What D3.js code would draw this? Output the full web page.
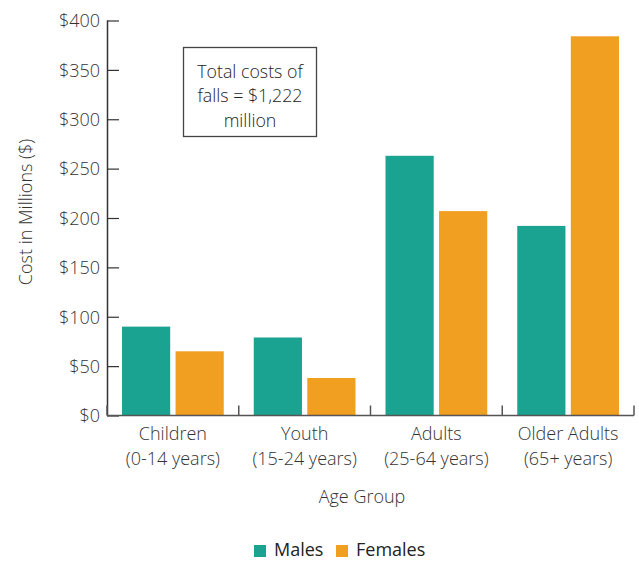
<!DOCTYPE html>
<html><head><meta charset="utf-8">
<script src="https://cdn.jsdelivr.net/npm/d3@7"></script>
<style>
body{margin:0;background:#fff;}
text{font-family:"Open Sans",sans-serif;font-weight:300;}
</style></head>
<body><svg id="c" width="639" height="561"></svg>
<script>
const categories = ["Children|(0-14 years)","Youth|(15-24 years)","Adults|(25-64 years)","Older Adults|(65+ years)"];
const seriesNames = ["Males","Females"];
const males = [90, 79, 263, 192];
const females = [65, 38, 207, 384];
const yTicks = [0,50,100,150,200,250,300,350,400];
const colors = ["#1aa391","#f19f21"];
const annotation = ["Total costs of","falls = $1,222","million"];

const svg = d3.select("#c");
const x0 = d3.scaleBand().domain(categories).range([107,634]).paddingInner(0).paddingOuter(0);
const x1 = d3.scaleBand().domain(seriesNames).range([15, x0.bandwidth()-15]).paddingInner(0.1).paddingOuter(0);
const y = d3.scaleLinear().domain([0,400]).range([415.5,20.5]);
const vals = [males, females];

// bars
categories.forEach((c,i)=>{
  seriesNames.forEach((s,j)=>{
    svg.append("rect").attr("x", x0(c)+x1(s)).attr("width", x1.bandwidth())
      .attr("y", y(vals[j][i])).attr("height", y(0)-y(vals[j][i])).attr("fill", colors[j]);
  });
});

// y axis
const ya = svg.append("g").attr("transform","translate(107,0)")
  .call(d3.axisRight(y).tickValues(yTicks).tickSize(12).tickFormat(d=>"$"+d));
ya.select(".domain").attr("stroke","#333").attr("stroke-width",1.5).attr("d","M0.5,"+y(400)+"V"+y(0));
ya.selectAll(".tick line").attr("stroke","#333").attr("stroke-width",1.2);
ya.selectAll(".tick text").attr("x",-7).attr("text-anchor","end").attr("fill","#333").style("font-size","18px").attr("dy","0.35em");

// x axis
const xa = svg.append("g").attr("transform","translate(0,"+y(0)+")");
xa.append("line").attr("x1",107).attr("x2",634).attr("y1",0).attr("y2",0).attr("stroke","#555").attr("stroke-width",1.5);
const bounds = categories.map(c=>x0(c)).concat([x0.range()[1]]);
bounds.forEach(b=>xa.append("line").attr("x1",b).attr("x2",b).attr("y1",0).attr("y2",-10).attr("stroke","#555").attr("stroke-width",1.5));
categories.forEach(c=>{
  const parts = c.split("|");
  const t = xa.append("text").attr("text-anchor","middle").attr("fill","#333").style("font-size","18px")
    .attr("x", x0(c)+x0.bandwidth()/2).attr("y", 24.5);
  parts.forEach((p,k)=>t.append("tspan").attr("x", x0(c)+x0.bandwidth()/2).attr("dy", k?25:0).text(p));
});

// axis titles
svg.append("text").attr("transform","translate(32,212) rotate(-90)").attr("text-anchor","middle").attr("fill","#333").style("font-size","18px").text("Cost in Millions ($)");
svg.append("text").attr("x",362).attr("y",503).attr("text-anchor","middle").attr("fill","#333").style("font-size","18px").text("Age Group");

// annotation
svg.append("rect").attr("x",183.5).attr("y",47.5).attr("width",133).attr("height",89).attr("fill","#fff").attr("stroke","#444").attr("stroke-width",1.3);
annotation.forEach((l,k)=>svg.append("text").attr("x",250).attr("y",78+k*24.3).attr("text-anchor","middle").attr("fill","#222").style("font-size","17.8px").text(l));

// legend
const leg = [{x:254,tx:274},{x:336,tx:356}];
seriesNames.forEach((s,j)=>{
  svg.append("rect").attr("x",leg[j].x).attr("y",545).attr("width",12).attr("height",12).attr("fill",colors[j]);
  svg.append("text").attr("x",leg[j].tx).attr("y",556).attr("fill","#222").style("font-size","18px").style("font-weight","400").text(s);
});
</script></body></html>
